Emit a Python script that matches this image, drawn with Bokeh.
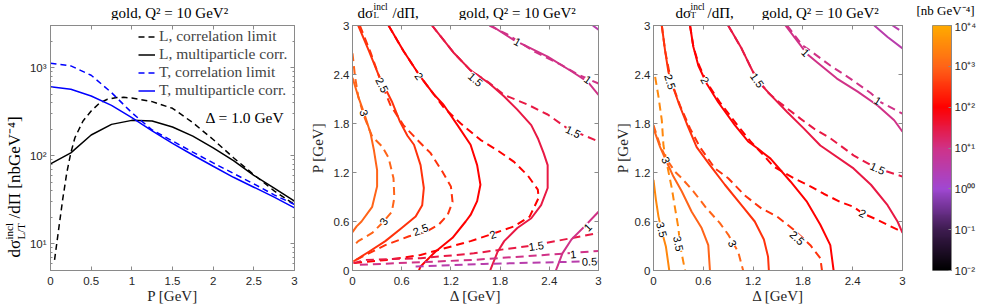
import json
import numpy as np
from bokeh.plotting import figure
from bokeh.layouts import row, column
from bokeh.models import (Range1d, FixedTicker, CustomJSTickFormatter, LinearAxis, LogAxis,
                          Label, Legend, LegendItem, LogColorMapper, ColumnDataSource)
from bokeh.core.properties import value
from bokeh.embed import file_html
from bokeh.resources import INLINE

# ---------------- panel 1 data (P in GeV, cross section in nb GeV^-4) ----------------
P_GRID = [0.0, 0.25, 0.5, 0.75, 1.0, 1.25, 1.5, 1.75, 2.0, 2.25, 2.5, 2.75, 3.0]
L_MULTI = [81, 108, 172, 227, 252, 248, 212, 167, 123, 88, 60, 43, 30.5]
T_MULTI = [608, 568, 476, 373, 270, 191, 138, 102, 76, 57, 44, 34, 25.7]
T_CORR = [1120, 1045, 818, 520, 308, 196, 147, 110, 83, 63, 48, 36, 28]
P_L_CORR = [0.05, 0.1, 0.15, 0.2, 0.25, 0.3, 0.4, 0.5, 0.6, 0.7, 0.8, 0.9, 1.0,
            1.25, 1.5, 1.75, 2.0, 2.25, 2.5, 2.75, 3.0]
L_CORR = [6.6, 14.6, 32, 64, 108, 160, 248, 322, 394, 437, 456, 460, 452,
          411, 345, 237, 153, 95, 61, 40, 28]
LEGEND_LABELS = ["L, correlation limit", "L, multiparticle corr.",
                 "T, correlation limit", "T, multiparticle corr."]

# ---------------- ticks ----------------
P_TICKS = [0, 0.5, 1, 1.5, 2, 2.5, 3]
LOG_TICKS = [10, 100, 1000]
LOG_TICK_LABELS = ["10\u00b9", "10\u00b2", "10\u00b3"]
LOG_MINOR = [6, 7, 8, 9, 20, 30, 40, 50, 60, 70, 80, 90,
             200, 300, 400, 500, 600, 700, 800, 900, 2000, 3000]
GRID_TICKS = [0, 0.6, 1.2, 1.8, 2.4, 3]
CB_TICKS = [0.01, 0.1, 1, 10, 100, 1000, 10000]
CB_TICK_LABELS = ["10\u207b\u00b2", "10\u207b\u00b9", "10\u2070\u2070", "10\u207a\u00b9",
                  "10\u207a\u00b2", "10\u207a\u00b3", "10\u207a\u2074"]

# ---------------- panel 2 (longitudinal) contour lines: (Delta, P) ----------------
L_SOLID_30 = ([0, 0.07, 0.14, 0.22, 0.26, 0.30, 0.30, 0.24, 0.11, 0.05, 0],
              [2.36, 2.13, 1.93, 1.68, 1.48, 1.23, 1.03, 0.78, 0.60, 0.54, 0.47])
L_DASH_30 = ([0, 0.03, 0.07, 0.14, 0.24, 0.36, 0.44, 0.50, 0.51, 0.48, 0.38, 0.24, 0.07, 0],
             [2.66, 2.38, 2.13, 1.89, 1.64, 1.52, 1.38, 1.13, 0.89, 0.72, 0.60, 0.46, 0.36, 0.29])
L_SOLID_25 = ([0.07, 0.20, 0.32, 0.48, 0.58, 0.67, 0.75, 0.83, 0.87, 0.85, 0.77, 0.60, 0.40, 0.20, 0.01],
              [3.0, 2.69, 2.39, 2.07, 1.82, 1.65, 1.54, 1.29, 1.01, 0.80, 0.66, 0.52, 0.36, 0.23, 0.11])
L_DASH_25 = ([0.09, 0.22, 0.34, 0.46, 0.62, 0.79, 0.95, 1.09, 1.20, 1.22, 1.16, 1.05, 0.89, 0.69, 0.40, 0.16, 0.01],
             [3.0, 2.67, 2.33, 2.03, 1.78, 1.60, 1.44, 1.22, 1.03, 0.84, 0.68, 0.56, 0.47, 0.42, 0.31, 0.19, 0.11])
L_SOLID_20 = ([0.44, 0.62, 0.83, 0.99, 1.11, 1.28, 1.44, 1.52, 1.56, 1.52, 1.44, 1.38, 1.22, 1.01, 0.83, 0.81],
              [3.0, 2.69, 2.37, 2.16, 2.03, 1.78, 1.54, 1.29, 1.05, 0.85, 0.68, 0.60, 0.40, 0.23, 0.05, 0.0])
L_DASH_20 = ([0.44, 0.62, 0.83, 0.99, 1.11, 1.32, 1.56, 1.77, 1.97, 2.14, 2.26, 2.27, 2.16, 1.97, 1.71, 1.44, 0.83, 0.42, 0.01],
             [3.0, 2.69, 2.37, 2.16, 2.0, 1.80, 1.60, 1.47, 1.33, 1.16, 0.99, 0.89, 0.66, 0.54, 0.45, 0.36, 0.19, 0.13, 0.09])
L_SOLID_15 = ([0.97, 1.24, 1.44, 1.67, 1.85, 2.01, 2.18, 2.26, 2.33, 2.38, 2.38, 2.30, 2.18, 2.01, 1.85, 1.77, 1.69, 1.68],
              [3.0, 2.66, 2.45, 2.29, 2.13, 1.97, 1.78, 1.62, 1.44, 1.29, 1.01, 0.80, 0.64, 0.52, 0.36, 0.23, 0.03, 0.0])
L_DASH_15A = ([0.97, 1.24, 1.44, 1.65, 1.85, 2.14, 2.38, 2.62, 3.0],
              [3.0, 2.66, 2.45, 2.31, 2.15, 2.03, 1.91, 1.74, 1.58])
L_DASH_15B = ([0.01, 0.16, 0.83, 1.48, 2.22, 3.0],
              [0.09, 0.13, 0.15, 0.21, 0.31, 0.46])
L_SOLID_10A = ([1.69, 1.97, 2.38, 2.67, 2.87, 3.0],
               [3.0, 2.82, 2.62, 2.44, 2.31, 2.15])
L_DASH_10A = ([1.67, 1.89, 2.22, 2.54, 2.75, 3.0],
              [3.0, 2.89, 2.68, 2.52, 2.40, 2.29])
L_SOLID_10B = ([3.0, 2.83, 2.67, 2.56, 2.50, 2.48],
               [0.72, 0.54, 0.38, 0.21, 0.05, 0.0])
L_DASH_10B = ([0.09, 1.48, 2.62, 3.0],
              [0.07, 0.13, 0.21, 0.24])
L_SOLID_05 = ([2.93, 3.0], [3.0, 2.95])
L_DASH_05 = ([0.77, 1.60, 2.79, 3.0], [0.05, 0.08, 0.11, 0.11])

L_LAB_TEXT = ["3", "2.5", "2", "1.5", "1", "1", "1.5", "3", "2.5", "2", "1.5", "1", "0.5", "1"]
L_LAB_D = [0.14, 0.36, 0.81, 1.50, 2.01, 2.87, 2.69, 0.38, 0.83, 1.71, 2.24, 2.69, 2.89, 2.87]
L_LAB_P = [1.93, 2.27, 2.38, 2.34, 2.80, 2.34, 1.70, 0.60, 0.50, 0.44, 0.30, 0.20, 0.11, 0.53]

# ---------------- panel 3 (transverse) contour lines: (Delta, P) ----------------
T_SOLID_35 = ([0, 0.03, 0.06, 0.10, 0.15, 0.19], [1.11, 0.86, 0.66, 0.48, 0.29, 0.0])
T_DASH_35 = ([0.02, 0.06, 0.10, 0.12, 0.18, 0.22, 0.26, 0.30, 0.32, 0.38],
             [2.37, 2.13, 1.84, 1.53, 1.21, 1.01, 0.76, 0.52, 0.31, 0.0])
T_SOLID_30 = ([0, 0.08, 0.15, 0.24, 0.34, 0.46, 0.58, 0.66, 0.68],
              [1.74, 1.51, 1.35, 1.15, 0.97, 0.72, 0.52, 0.31, 0.0])
T_DASH_30 = ([0, 0.08, 0.16, 0.26, 0.34, 0.48, 0.64, 0.80, 0.90, 1.02, 1.08],
             [1.78, 1.53, 1.36, 1.21, 1.13, 0.97, 0.76, 0.58, 0.44, 0.23, 0.0])
T_SOLID_25 = ([0.10, 0.14, 0.18, 0.22, 0.30, 0.40, 0.52, 0.68, 0.86, 1.06, 1.22, 1.33, 1.38, 1.39],
              [3.0, 2.69, 2.43, 2.29, 2.06, 1.80, 1.51, 1.29, 1.05, 0.80, 0.60, 0.38, 0.17, 0.0])
T_DASH_25 = ([0.10, 0.14, 0.19, 0.23, 0.32, 0.44, 0.56, 0.74, 0.90, 1.10, 1.30, 1.49, 1.69, 1.89, 2.01, 2.03],
             [3.0, 2.69, 2.43, 2.27, 2.02, 1.74, 1.51, 1.25, 1.13, 0.92, 0.76, 0.66, 0.50, 0.31, 0.15, 0.0])
T_SOLID_20 = ([0.44, 0.48, 0.54, 0.64, 0.78, 0.98, 1.14, 1.26, 1.41, 1.65, 1.85, 2.01, 2.13, 2.17],
              [3.0, 2.74, 2.51, 2.29, 2.06, 1.78, 1.58, 1.49, 1.37, 1.09, 0.84, 0.56, 0.31, 0.0])
T_DASH_20 = ([0.44, 0.48, 0.55, 0.65, 0.80, 1.01, 1.17, 1.31, 1.45, 1.69, 1.89, 2.05, 2.25, 2.41, 2.52, 2.70, 2.94, 3.0],
             [3.0, 2.74, 2.51, 2.29, 2.06, 1.78, 1.58, 1.43, 1.27, 1.13, 1.03, 0.94, 0.84, 0.78, 0.70, 0.62, 0.50, 0.47])
T_SOLID_15 = ([0.90, 1.06, 1.18, 1.25, 1.41, 1.61, 1.81, 2.01, 2.41, 2.62, 2.82, 2.94, 3.0],
              [3.0, 2.72, 2.47, 2.33, 2.15, 1.94, 1.74, 1.53, 1.25, 1.05, 0.80, 0.60, 0.46])
T_DASH_15 = ([0.90, 1.06, 1.18, 1.26, 1.39, 1.49, 1.77, 1.93, 2.13, 2.25, 2.41, 2.62, 2.70, 3.0],
             [3.0, 2.72, 2.47, 2.33, 2.17, 2.08, 1.86, 1.74, 1.62, 1.53, 1.41, 1.29, 1.25, 1.15])
T_SOLID_10 = ([1.59, 1.77, 1.85, 1.97, 2.21, 2.46, 2.70, 2.90, 3.0],
              [3.0, 2.76, 2.65, 2.55, 2.35, 2.19, 2.02, 1.84, 1.70])
T_DASH_10 = ([1.61, 1.79, 1.89, 2.13, 2.37, 2.62, 2.74, 3.0],
             [3.0, 2.76, 2.69, 2.51, 2.35, 2.17, 2.06, 1.92])
T_SOLID_05 = ([2.66, 2.82, 3.0], [3.0, 2.86, 2.72])
T_DASH_05 = ([2.88, 3.0], [3.0, 2.92])

T_LAB_TEXT = ["2.5", "2", "1.5", "1", "1", "1.5", "2", "2.5", "3", "3", "3.5", "3.5"]
T_LAB_D = [0.20, 0.62, 1.25, 1.83, 2.70, 2.70, 2.52, 1.73, 0.95, 0.15, 0.10, 0.30]
T_LAB_P = [2.31, 2.33, 2.33, 2.67, 2.08, 1.25, 0.70, 0.40, 0.33, 1.35, 0.50, 0.33]

# (level, dashed, line) tables
L_LINES = [(3.0, False, L_SOLID_30), (3.0, True, L_DASH_30), (2.5, False, L_SOLID_25), (2.5, True, L_DASH_25),
           (2.0, False, L_SOLID_20), (2.0, True, L_DASH_20), (1.5, False, L_SOLID_15), (1.5, True, L_DASH_15A),
           (1.5, True, L_DASH_15B), (1.0, False, L_SOLID_10A), (1.0, True, L_DASH_10A), (1.0, False, L_SOLID_10B),
           (1.0, True, L_DASH_10B), (0.5, False, L_SOLID_05), (0.5, True, L_DASH_05)]
T_LINES = [(3.5, False, T_SOLID_35), (3.5, True, T_DASH_35), (3.0, False, T_SOLID_30), (3.0, True, T_DASH_30),
           (2.5, False, T_SOLID_25), (2.5, True, T_DASH_25), (2.0, False, T_SOLID_20), (2.0, True, T_DASH_20),
           (1.5, False, T_SOLID_15), (1.5, True, T_DASH_15), (1.0, False, T_SOLID_10), (1.0, True, T_DASH_10),
           (0.5, False, T_SOLID_05), (0.5, True, T_DASH_05)]

# ---------------- styles ----------------
L_LAB_ANGLE = [-72, -63, -55, -41, -30, -35, -26, 56, 21, 19, 8, 5, 2, 46]
T_LAB_ANGLE = [-72, -61, -55, -45, -32, -24, -27, -44, -64, -66, -75, -78]
CB_ANCHOR_LOG = [-2, -1, 0, 1, 2, 3, 4]
CB_ANCHOR_RGB = [(0, 0, 0), (62, 28, 80), (160, 72, 210), (208, 50, 135),
                 (255, 0, 0), (255, 100, 24), (255, 170, 0)]
PH, TOP, BOT = 287, 5, 37       # panel figure height and borders
TITLE_H = 20                    # title strip height
AX = "#8a8a8a"
TXT = "#262626"
SERIF = "Liberation Serif"
SANS = "Liberation Sans"


def cmap(v):
    rgb = [int(round(np.interp(v, CB_ANCHOR_LOG, [c[i] for c in CB_ANCHOR_RGB]))) for i in range(3)]
    return "#%02x%02x%02x" % tuple(rgb)


PALETTE = [cmap(v) for v in np.linspace(-2, 4, 256)]


def num_fmt():
    return CustomJSTickFormatter(code="return String(Math.round(tick*10)/10);")


def blank_fmt():
    return CustomJSTickFormatter(code="return '';")


def tab_fmt(ticks, labels):
    code = ("const t = %s; const l = %s;"
            "for (let i = 0; i < t.length; i++) {"
            " if (Math.abs(Math.log10(tick) - Math.log10(t[i])) < 1e-6) return l[i]; }"
            " return '';") % (json.dumps(ticks), json.dumps(labels))
    return CustomJSTickFormatter(code=code)


def style(ax, labels=True):
    ax.axis_line_color = AX
    ax.major_tick_line_color = AX
    ax.minor_tick_line_color = AX
    ax.major_tick_in = 4
    ax.major_tick_out = 0
    ax.minor_tick_in = 2
    ax.minor_tick_out = 0
    ax.major_label_text_font = SANS
    ax.major_label_text_font_size = "11.5px" if labels else "1px"
    ax.major_label_text_color = TXT
    ax.major_label_standoff = 6 if labels else 0
    ax.axis_label_text_font = SERIF
    ax.axis_label_text_font_size = "15px"
    ax.axis_label_text_font_style = "normal"
    ax.axis_label_text_color = TXT


def make_fig(width, left, right, log=False):
    kw = dict(width=width, height=PH, output_backend="svg", toolbar_location=None,
              min_border_left=left, min_border_right=right, min_border_top=TOP,
              min_border_bottom=BOT, x_range=Range1d(0, 3))
    if log:
        kw.update(y_axis_type="log", y_range=Range1d(5, 3000))
    else:
        kw.update(y_range=Range1d(0, 3))
    p = figure(**kw)
    p.outline_line_color = AX
    p.xgrid.visible = False
    p.ygrid.visible = False
    p.background_fill_color = "white"
    p.border_fill_color = "white"
    return p


def strip(width, height):
    s = figure(frame_width=width, frame_height=height, output_backend="svg", toolbar_location=None,
               x_range=Range1d(0, width), y_range=Range1d(0, height),
               x_axis_type=None, y_axis_type=None, min_border=0)
    try:
        s.title = None
    except Exception:
        pass
    s.outline_line_color = None
    s.border_fill_color = "white"
    s.background_fill_color = "white"
    return s


def box_axes(p, xt, yt, log=False):
    top = LinearAxis(ticker=xt, formatter=blank_fmt())
    style(top, labels=False)
    p.add_layout(top, "above")
    right = (LogAxis if log else LinearAxis)(ticker=yt, formatter=blank_fmt())
    style(right, labels=False)
    p.add_layout(right, "right")


def lab(p, x, y, text, size="15px", font=SERIF, align="left", baseline="middle", angle=0):
    p.add_layout(Label(x=x, y=y, x_units="screen", y_units="screen", text=text,
                       text_font=font, text_font_size=size, text_align=align,
                       text_baseline=baseline, angle=angle, angle_units="deg",
                       text_color="black"))


# ---------------- title strip (y measured up from its bottom edge) ----------------
top = strip(979, TITLE_H)
lab(top, 171, 8, "gold,  Q\u00b2 = 10 GeV\u00b2", align="center")
for x0, x1, x2, xend, sub in [(357, 373, 392, 579, "L"), (675, 690, 707, 882, "T")]:
    lab(top, x0, 8, "d\u03c3")
    lab(top, x1, 13.5, "incl", size="9.5px")
    lab(top, x1, 6, sub, size="9px")
    lab(top, x2, 8, "/d\u03a0,")
    lab(top, xend, 8, "gold,  Q\u00b2 = 10 GeV\u00b2", align="right")
lab(top, 945, 10, "[nb GeV\u207b\u2074]", size="13px", align="center")

# ---------------- y-label strip of panel 1 ----------------
ys = strip(26, PH)
lab(ys, 14, 55, "d\u03c3", size="17px", angle=90)
lab(ys, 8, 73, "incl", size="11px", angle=90)
lab(ys, 20, 73, "L/T", size="11px", angle=90)
lab(ys, 14, 94, "/d\u03a0  [nbGeV\u207b\u2074]", size="17px", angle=90)

# ---------------- panel 1 ----------------
p1 = make_fig(280, 23, 12, log=True)
xt1 = FixedTicker(ticks=P_TICKS, minor_ticks=[])
yt1 = FixedTicker(ticks=LOG_TICKS, minor_ticks=LOG_MINOR)
p1.xaxis.ticker = xt1
p1.xaxis.formatter = num_fmt()
p1.xaxis.axis_label = "P [GeV]"
p1.yaxis.ticker = yt1
p1.yaxis.formatter = tab_fmt(LOG_TICKS, LOG_TICK_LABELS)
style(p1.xaxis[0])
style(p1.yaxis[0])
p1.xaxis.axis_label_standoff = 0
p1.yaxis.major_label_standoff = 4
box_axes(p1, xt1, yt1, log=True)

r_lc = p1.line(P_L_CORR, L_CORR, line_color="black", line_width=1.5, line_dash="6 4")
r_lm = p1.line(P_GRID, L_MULTI, line_color="black", line_width=1.5)
r_tc = p1.line(P_GRID, T_CORR, line_color="blue", line_width=1.5, line_dash="6 4")
r_tm = p1.line(P_GRID, T_MULTI, line_color="blue", line_width=1.5)
leg = Legend(items=[LegendItem(label=LEGEND_LABELS[0], renderers=[r_lc]),
                    LegendItem(label=LEGEND_LABELS[1], renderers=[r_lm]),
                    LegendItem(label=LEGEND_LABELS[2], renderers=[r_tc]),
                    LegendItem(label=LEGEND_LABELS[3], renderers=[r_tm])],
             location=(88, 171))
leg.margin = 0
leg.padding = 0
leg.border_line_alpha = 0
leg.background_fill_alpha = 0
leg.glyph_width = 17
leg.glyph_height = 15
leg.label_height = 15
leg.spacing = 0
leg.label_standoff = 4
leg.label_text_font = SERIF
leg.label_text_font_size = "15.5px"
p1.add_layout(leg)
lab(p1, 234, 153, "\u0394 = 1.0 GeV", size="15.5px", align="right")


# ---------------- contour panels ----------------
def contour_panel(width, left, right, lines, lab_d, lab_p, lab_t, lab_a, standoff):
    p = make_fig(width, left, right)
    xt = FixedTicker(ticks=GRID_TICKS, minor_ticks=[])
    yt = FixedTicker(ticks=GRID_TICKS, minor_ticks=[])
    p.xaxis.ticker = xt
    p.yaxis.ticker = yt
    p.xaxis.formatter = num_fmt()
    p.yaxis.formatter = num_fmt()
    style(p.xaxis[0])
    style(p.yaxis[0])
    p.yaxis.major_label_standoff = 3
    p.xaxis.axis_label = "\u0394 [GeV]"
    p.yaxis.axis_label = "P [GeV]"
    p.xaxis.axis_label_standoff = 0
    p.yaxis.axis_label_standoff = standoff
    box_axes(p, xt, yt)
    for lev, dashed, (d, pp) in lines:
        p.line(d, pp, line_color=cmap(lev), line_width=2, line_join="round",
               line_dash="8 5" if dashed else "solid")
    src = ColumnDataSource(dict(x=lab_d, y=lab_p, text=lab_t, angle=lab_a))
    p.text(x="x", y="y", text="text", angle="angle", angle_units="deg", source=src,
           text_font=value(SANS), text_font_size="11px", text_align="center",
           text_baseline="middle", text_color="black",
           background_fill_color="white", background_fill_alpha=1.0)
    return p


p2 = contour_panel(300, 46, 8, L_LINES, L_LAB_D, L_LAB_P, L_LAB_TEXT, L_LAB_ANGLE, 5)
p3 = contour_panel(306, 47, 10, T_LINES, T_LAB_D, T_LAB_P, T_LAB_TEXT, T_LAB_ANGLE, 1)

# ---------------- colour bar ----------------
p4 = figure(width=67, height=PH, output_backend="svg", toolbar_location=None,
            x_range=Range1d(0, 1), y_range=Range1d(1e-2, 1e4), y_axis_type="log",
            x_axis_type=None, y_axis_location="right",
            min_border_left=20, min_border_right=27, min_border_top=TOP, min_border_bottom=BOT)
p4.outline_line_color = AX
p4.xgrid.visible = False
p4.ygrid.visible = False
p4.border_fill_color = "white"
mapper = LogColorMapper(palette=PALETTE, low=1e-2, high=1e4)
cb_vals = np.logspace(-2, 4, 256).reshape(256, 1)
p4.image(image=[cb_vals], x=0, y=1e-2, dw=1, dh=1e4 - 1e-2, color_mapper=mapper)
cbt = FixedTicker(ticks=CB_TICKS, minor_ticks=[])
p4.yaxis.ticker = cbt
p4.yaxis.formatter = tab_fmt(CB_TICKS, CB_TICK_LABELS)
style(p4.yaxis[0])
p4.yaxis.major_tick_in = 3
p4.yaxis.major_label_standoff = 3

layout = column(top, row(ys, p1, p2, p3, p4))
open("out.html", "w").write(file_html(layout, INLINE, "gold"))
